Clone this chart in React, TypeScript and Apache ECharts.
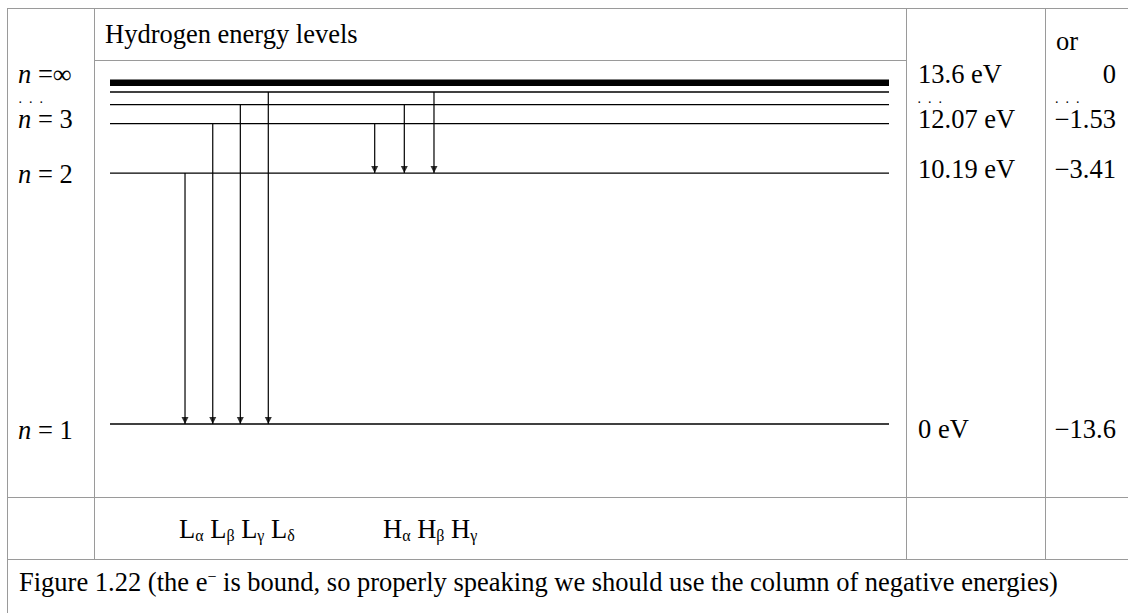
import React, { useEffect, useRef } from "react";
import * as echarts from "echarts";

// Drawn heights of the energy levels (eV scale): n = 1, 2, 3, 4, 5, ∞
const levelNames = ["n = 1", "n = 2", "n = 3", "n = 4", "n = 5", "n = ∞"];
const levelHeights = [0, 10.0, 11.97, 12.73, 13.23, 13.6];

// Lyman arrows (to n = 1): x position (0–100 scale) and upper level index
const lymanNames = ["α", "β", "γ", "δ"];
const lymanX = [9.63, 13.19, 16.73, 20.32];
const lymanFrom = [1, 2, 3, 4];
const lymanTo = 0;

// Balmer arrows (to n = 2)
const balmerNames = ["α", "β", "γ"];
const balmerX = [33.98, 37.78, 41.59];
const balmerFrom = [2, 3, 4];
const balmerTo = 1;

// Table texts
const nLabels = ["∞", "3", "2", "1"];
const eVLabels = ["13.6 eV", "12.07 eV", "10.19 eV", "0 eV"];
const negLabels = ["0", "−1.53", "−3.41", "−13.6"];
const titleText = "Hydrogen energy levels";
const orText = "or";
const dotsText = ".\u00a0\u00a0.\u00a0\u00a0.";
const captionBefore = "Figure 1.22 (the e";
const captionAfter = " is bound, so properly speaking we should use the column of negative energies)";

const FAMILY = "'Liberation Serif', 'Times New Roman', serif";
const FS = 26.5;
const SUB = 16;
const GRAY = "#9a9a9a";

export default function App() {
  const ref = useRef<HTMLDivElement>(null);

  useEffect(() => {
    if (!ref.current) return;
    const chart = echarts.init(ref.current, null, { renderer: "svg" });

    const levelSeries = levelHeights.map((h, i) => ({
      type: "line",
      name: levelNames[i],
      data: [
        [0, h],
        [100, h],
      ],
      symbol: "none",
      clip: false,
      silent: true,
      lineStyle: { color: "#000", width: i === levelHeights.length - 1 ? 6.5 : 1.3 },
    }));

    const arrows = [
      ...lymanX.map((x, i) => ({ x, from: levelHeights[lymanFrom[i]], to: levelHeights[lymanTo] })),
      ...balmerX.map((x, i) => ({ x, from: levelHeights[balmerFrom[i]], to: levelHeights[balmerTo] })),
    ];

    const shaftSeries = arrows.map((a) => ({
      type: "line",
      data: [
        [a.x, a.from],
        [a.x, a.to],
      ],
      symbol: "none",
      clip: false,
      silent: true,
      lineStyle: { color: "#000", width: 1.2 },
    }));

    const headSeries = {
      type: "scatter",
      data: arrows.map((a) => [a.x, a.to]),
      symbol: "path://M0,0L10,0L5,10Z",
      symbolSize: [7, 7],
      symbolOffset: [0, "-50%"],
      clip: false,
      silent: true,
      itemStyle: { color: "#000" },
    };

    const hline = (x1: number, x2: number, y: number) => ({
      type: "line",
      shape: { x1, y1: y, x2, y2: y },
      style: { stroke: GRAY, lineWidth: 1 },
      silent: true,
    });
    const vline = (x: number, y1: number, y2: number) => ({
      type: "line",
      shape: { x1: x, y1, x2: x, y2 },
      style: { stroke: GRAY, lineWidth: 1 },
      silent: true,
    });

    const text = (t: string, x: number, y: number, align = "left", size = FS) => ({
      type: "text",
      x,
      y,
      silent: true,
      style: {
        text: t,
        fill: "#000",
        font: `${size}px ${FAMILY}`,
        fontSize: size,
        fontFamily: FAMILY,
        align,
        textAlign: align,
        verticalAlign: "middle",
        textVerticalAlign: "middle",
      },
    });

    const richText = (t: string, x: number, y: number, rich: any) => ({
      type: "text",
      x,
      y,
      silent: true,
      style: {
        text: t,
        fill: "#000",
        font: `${FS}px ${FAMILY}`,
        fontSize: FS,
        fontFamily: FAMILY,
        align: "left",
        textAlign: "left",
        verticalAlign: "middle",
        textVerticalAlign: "middle",
        rich,
      },
    });

    const nRich = {
      i: { fontSize: FS, fontFamily: FAMILY, fontStyle: "italic", fill: "#000" },
      r: { fontSize: FS, fontFamily: FAMILY, fill: "#000" },
    };
    const subRich = {
      m: { fontSize: FS, fontFamily: FAMILY, lineHeight: 28, fill: "#000" },
      s: { fontSize: SUB, fontFamily: FAMILY, verticalAlign: "bottom", fill: "#000" },
    };
    const supRich = {
      m: { fontSize: FS, fontFamily: FAMILY, lineHeight: 28, fill: "#000" },
      u: { fontSize: SUB, fontFamily: FAMILY, verticalAlign: "top", fill: "#000" },
    };

    const labelY = [74, 118.8, 169.4, 428.8];
    const nY = [73.5, 118.8, 173.5, 430];

    const nTexts = nLabels.map((l, i) =>
      richText(`{i|n}{r|${l === "∞" ? " =∞" : " = " + l}}`, 18, nY[i], nRich)
    );
    const eVTexts = eVLabels.map((l, i) => text(l, 918, labelY[i]));
    const negTexts = negLabels.map((l, i) => text(l, 1116, labelY[i], "right"));

    const lymanText = lymanNames.map((g) => `{m|L}{s|${g}}`).join("{m| }");
    const balmerText = balmerNames.map((g) => `{m|H}{s|${g}}`).join("{m| }");

    const graphic = [
      // table lines
      hline(7, 1128, 8.5),
      hline(94, 906, 60.5),
      hline(7, 1128, 497.5),
      hline(7, 1128, 559.5),
      vline(7.5, 8, 613),
      vline(94.5, 8, 559),
      vline(906.5, 8, 559),
      vline(1045.5, 8, 559),
      // texts
      text(titleText, 105, 33.8),
      text(orText, 1056, 41.1),
      ...nTexts,
      ...eVTexts,
      ...negTexts,
      text(dotsText, 18.5, 98.5, "left", 14),
      text(dotsText, 917.5, 98.5, "left", 14),
      text(dotsText, 1055, 98.5, "left", 14),
      richText(lymanText, 179, 529, subRich),
      richText(balmerText, 383, 529, subRich),
      richText(`{m|${captionBefore}}{u|−}{m|${captionAfter}}`, 19, 582, supRich),
    ];

    chart.setOption({
      animation: false,
      backgroundColor: "#fff",
      grid: { left: 110, right: 239, top: 82.7, bottom: 189 },
      xAxis: { type: "value", min: 0, max: 100, show: false },
      yAxis: { type: "value", min: 0, max: 13.6, show: false },
      series: [...levelSeries, ...shaftSeries, headSeries],
      graphic,
    });

    return () => chart.dispose();
  }, []);

  return (
    <div
      ref={ref}
      style={{ position: "fixed", left: 0, top: 0, width: 1128, height: 613, background: "#fff" }}
    />
  );
}
